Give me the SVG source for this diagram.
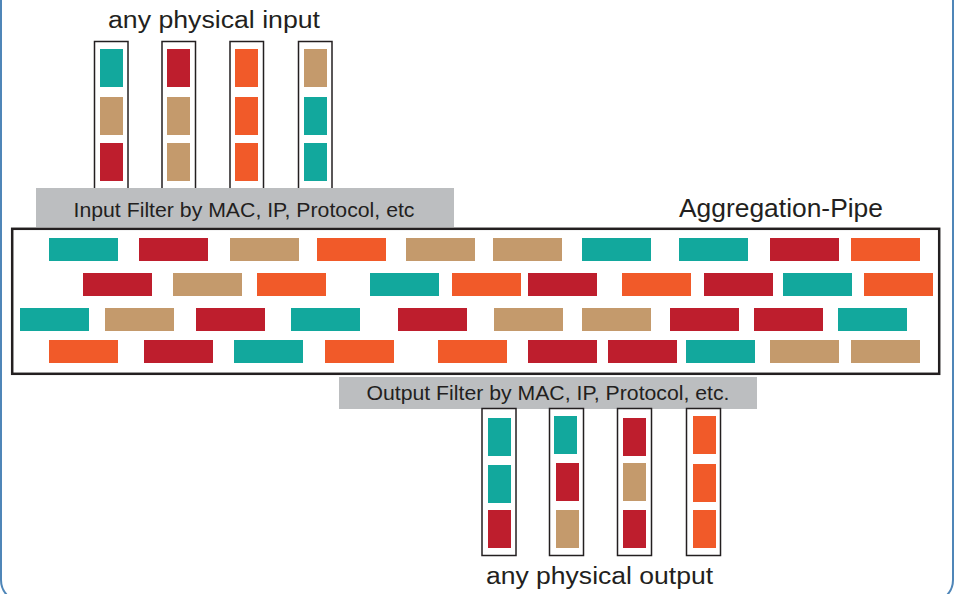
<svg xmlns="http://www.w3.org/2000/svg" width="954" height="594" viewBox="0 0 954 594">
<style>
.t{fill:#12a89d}.r{fill:#be1e2d}.b{fill:#c49a6c}.o{fill:#f15a29}
.port{fill:none;stroke:#231f20;stroke-width:1.5}
.bar{fill:#bcbec0}
.lbl{font-family:"Liberation Sans",Arial,sans-serif;fill:#231f20}
</style>
<rect x="1" y="-30" width="952" height="632" rx="22" fill="#ffffff" stroke="#4f86b8" stroke-width="2"/>
<g id="connectors"/>
<g id="input-ports">
<text class="lbl" x="108" y="28" font-size="23" textLength="212" lengthAdjust="spacingAndGlyphs">any physical input</text>
<rect class="port" x="94.5" y="41.5" width="33.5" height="150"/>
<rect class="port" x="162" y="41.5" width="33.5" height="150"/>
<rect class="port" x="230" y="41.5" width="33.5" height="150"/>
<rect class="port" x="298.5" y="41.5" width="33.5" height="150"/>
<rect class="t" x="100" y="49" width="23" height="38"/><rect class="b" x="100" y="97" width="23" height="38"/><rect class="r" x="100" y="143" width="23" height="38"/>
<rect class="r" x="167" y="49" width="23" height="38"/><rect class="b" x="167" y="97" width="23" height="38"/><rect class="b" x="167" y="143" width="23" height="38"/>
<rect class="o" x="235" y="49" width="23" height="38"/><rect class="o" x="235" y="97" width="23" height="38"/><rect class="o" x="235" y="143" width="23" height="38"/>
<rect class="b" x="304" y="49" width="23" height="38"/><rect class="t" x="304" y="97" width="23" height="38"/><rect class="t" x="304" y="143" width="23" height="38"/>
</g>
<g id="input-filter">
<rect class="bar" x="36" y="188" width="418" height="39"/>
<text class="lbl" x="73.5" y="216.5" font-size="21" textLength="341" lengthAdjust="spacingAndGlyphs">Input Filter by MAC, IP, Protocol, etc</text>
</g>
<g id="aggregation-pipe">
<text class="lbl" x="679" y="216.5" font-size="25" textLength="204" lengthAdjust="spacingAndGlyphs">Aggregation-Pipe</text>
<rect x="12.2" y="228.8" width="927" height="145" fill="none" stroke="#231f20" stroke-width="2.5"/>
<g>
<rect class="t" x="49" y="238" width="69" height="23"/><rect class="r" x="139" y="238" width="69" height="23"/><rect class="b" x="230" y="238" width="69" height="23"/><rect class="o" x="317" y="238" width="69" height="23"/><rect class="b" x="406" y="238" width="69" height="23"/><rect class="b" x="493" y="238" width="69" height="23"/><rect class="t" x="582" y="238" width="69" height="23"/><rect class="t" x="679" y="238" width="69" height="23"/><rect class="r" x="770" y="238" width="69" height="23"/><rect class="o" x="851" y="238" width="69" height="23"/>
</g>
<g>
<rect class="r" x="83" y="273" width="69" height="23"/><rect class="b" x="173" y="273" width="69" height="23"/><rect class="o" x="257" y="273" width="69" height="23"/><rect class="t" x="370" y="273" width="69" height="23"/><rect class="o" x="452" y="273" width="69" height="23"/><rect class="r" x="528" y="273" width="69" height="23"/><rect class="o" x="622" y="273" width="69" height="23"/><rect class="r" x="704" y="273" width="69" height="23"/><rect class="t" x="783" y="273" width="69" height="23"/><rect class="o" x="864" y="273" width="69" height="23"/>
</g>
<g>
<rect class="t" x="20" y="308" width="69" height="23"/><rect class="b" x="105" y="308" width="69" height="23"/><rect class="r" x="196" y="308" width="69" height="23"/><rect class="t" x="291" y="308" width="69" height="23"/><rect class="r" x="398" y="308" width="69" height="23"/><rect class="b" x="494" y="308" width="69" height="23"/><rect class="b" x="582" y="308" width="69" height="23"/><rect class="r" x="670" y="308" width="69" height="23"/><rect class="r" x="754" y="308" width="69" height="23"/><rect class="t" x="838" y="308" width="69" height="23"/>
</g>
<g>
<rect class="o" x="49" y="340" width="69" height="23"/><rect class="r" x="144" y="340" width="69" height="23"/><rect class="t" x="234" y="340" width="69" height="23"/><rect class="o" x="325" y="340" width="69" height="23"/><rect class="o" x="438" y="340" width="69" height="23"/><rect class="r" x="528" y="340" width="69" height="23"/><rect class="r" x="608" y="340" width="69" height="23"/><rect class="t" x="686" y="340" width="69" height="23"/><rect class="b" x="770" y="340" width="69" height="23"/><rect class="b" x="851" y="340" width="69" height="23"/>
</g>
</g>
<g id="output-filter">
<rect class="bar" x="339" y="377" width="418" height="32"/>
<text class="lbl" x="366.5" y="400" font-size="21" textLength="363" lengthAdjust="spacingAndGlyphs">Output Filter by MAC, IP, Protocol, etc.</text>
</g>
<g id="output-ports">
<rect class="port" x="482" y="408.5" width="34" height="147"/>
<rect class="port" x="549.5" y="408.5" width="34" height="147"/>
<rect class="port" x="617.5" y="408.5" width="34" height="147"/>
<rect class="port" x="686.5" y="408.5" width="34" height="147"/>
<rect class="t" x="488" y="418" width="23" height="38"/><rect class="t" x="488" y="465" width="23" height="38"/><rect class="r" x="488" y="510" width="23" height="38"/>
<rect class="t" x="554" y="416" width="23" height="38"/><rect class="r" x="556" y="463" width="23" height="38"/><rect class="b" x="556" y="510" width="23" height="38"/>
<rect class="r" x="623" y="418" width="23" height="38"/><rect class="b" x="623" y="463" width="23" height="38"/><rect class="r" x="623" y="510" width="23" height="38"/>
<rect class="o" x="693" y="416" width="23" height="38"/><rect class="o" x="693" y="464" width="23" height="38"/><rect class="o" x="693" y="510" width="23" height="38"/>
<text class="lbl" x="486" y="583.5" font-size="23" textLength="227" lengthAdjust="spacingAndGlyphs">any physical output</text>
</g>
</svg>
